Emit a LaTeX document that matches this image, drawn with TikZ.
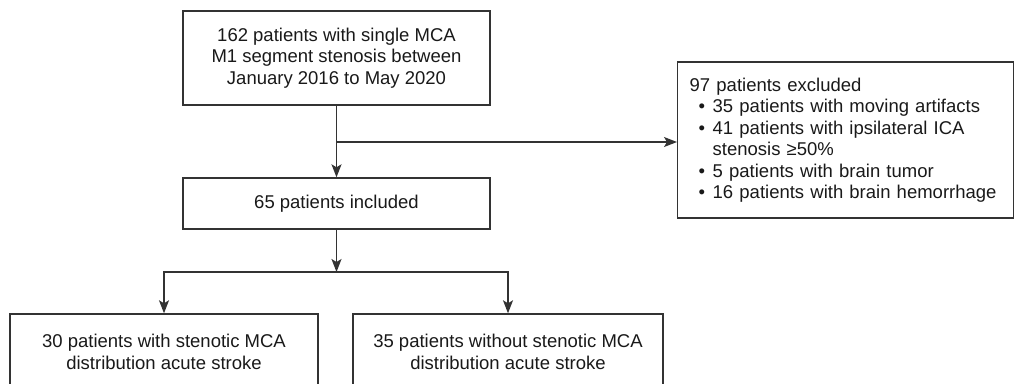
\documentclass[tikz,border=0pt]{standalone}
\usepackage{fontspec}
\setmainfont{Liberation Sans}
\usetikzlibrary{arrows.meta}
\definecolor{linec}{HTML}{333333}
\begin{document}
\begin{tikzpicture}[x=1pt,y=-1pt,
  box/.style={draw=linec, line width=1.4pt, rectangle, inner sep=0pt, align=center,
    font=\fontsize{18.5}{21.5}\selectfont, text=black!90},
  arr/.style={draw=linec, line width=1.4pt, -{Stealth[length=13pt,width=10pt,inset=3pt]}}]
\useasboundingbox (0,0) rectangle (1016,383);
\node[box, minimum width=307pt, minimum height=94pt] (top) at (336.5,58)
  {162 patients with single MCA\\M1 segment stenosis between\\January 2016 to May 2020};
\node[box, minimum width=307pt, minimum height=51pt] (inc) at (336.5,203.5)
  {65 patients included};
\node[box, text width=312pt, inner xsep=12pt, minimum height=156pt, align=left, anchor=west] (exc) at (677,140)
  {97 patients excluded\\
   \makebox[23pt][l]{\hspace{9pt}•}35 patients with moving artifacts\\
   \makebox[23pt][l]{\hspace{9pt}•}41 patients with ipsilateral ICA\\
   \makebox[23pt][l]{}stenosis ≥50\%\\
   \makebox[23pt][l]{\hspace{9pt}•}5 patients with brain tumor\\
   \makebox[23pt][l]{\hspace{9pt}•}16 patients with brain hemorrhage};
\node[box, minimum width=308pt, minimum height=76pt] (left) at (164,352)
  {30 patients with stenotic MCA\\distribution acute stroke};
\node[box, minimum width=310pt, minimum height=76pt] (right) at (508,352)
  {35 patients without stenotic MCA\\distribution acute stroke};
\coordinate (j1) at (336.5,142);
\coordinate (j2) at (336.5,272);
\draw[arr] (top.south) -- (inc.north);
\draw[arr] (j1) -- (j1 -| exc.west);
\draw[arr] (inc.south) -- (j2);
\draw[arr] (j2) -| (left.north);
\draw[arr] (j2) -| (right.north);
\end{tikzpicture}
\end{document}
